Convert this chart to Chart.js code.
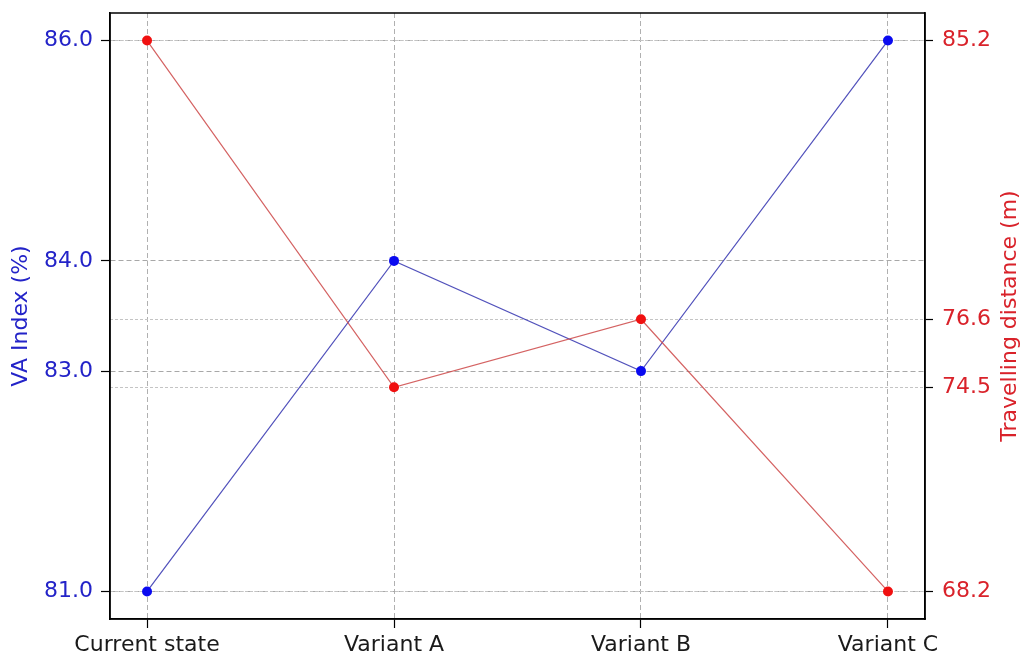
<!DOCTYPE html>
<html><head><meta charset="utf-8">
<script src="https://cdn.jsdelivr.net/npm/chart.js@4/dist/chart.umd.min.js"></script>
<style>html,body{margin:0;padding:0;background:#fff}canvas{display:block}</style>
</head><body>
<canvas id="c" width="1024" height="658"></canvas>
<script>
const categories = ['Current state', 'Variant A', 'Variant B', 'Variant C'];
const vaIndex = [81.0, 84.0, 83.0, 86.0];
const travelDistance = [85.2, 74.5, 76.6, 68.2];
const vaTicks = [81.0, 83.0, 84.0, 86.0];
const distTicks = [68.2, 74.5, 76.6, 85.2];
const leftTitle = 'VA Index (%)';
const rightTitle = 'Travelling distance (m)';

const FONT = 'DejaVu Sans';
const FS = 22;
const BLUE_TXT = '#2323c8';
const RED_TXT = '#d9222a';
const BLUE_PT = '#0a0af0';
const RED_PT = '#f01010';
const BLUE_LN = 'rgba(50,50,175,0.85)';
const RED_LN = 'rgba(205,70,70,0.85)';

function pad(arr, frac) {
  const lo = Math.min(...arr), hi = Math.max(...arr);
  const m = (hi - lo) * frac;
  return [lo - m, hi + m];
}
const vaRange = pad(vaIndex, 0.05);
const distRange = pad(travelDistance, 0.05);

const framePlugin = {
  id: 'frame',
  afterDraw(chart) {
    const { ctx, chartArea: a } = chart;
    ctx.save();
    ctx.strokeStyle = '#000';
    ctx.lineWidth = 1.5;
    ctx.strokeRect(a.left, a.top, a.right - a.left, a.bottom - a.top);
    ctx.font = FS + 'px "' + FONT + '"';
    ctx.fillStyle = RED_TXT;
    ctx.textAlign = 'center';
    ctx.textBaseline = 'middle';
    ctx.translate(1010, (a.top + a.bottom) / 2);
    ctx.rotate(-Math.PI / 2);
    ctx.fillText(rightTitle, 0, 0);
    ctx.restore();
  }
};

function fitY(width) {
  return s => { s.width = width; s.paddingTop = 0; s.paddingBottom = 0; };
}

new Chart(document.getElementById('c'), {
  type: 'line',
  data: {
    datasets: [
      {
        label: rightTitle,
        data: travelDistance.map((v, i) => ({ x: i, y: v })),
        yAxisID: 'y1',
        borderColor: RED_LN,
        backgroundColor: RED_PT,
        borderWidth: 1.2,
        pointRadius: 5,
        pointBorderWidth: 0,
        pointHoverRadius: 5,
        tension: 0
      },
      {
        label: leftTitle,
        data: vaIndex.map((v, i) => ({ x: i, y: v })),
        yAxisID: 'y',
        borderColor: BLUE_LN,
        backgroundColor: BLUE_PT,
        borderWidth: 1.2,
        pointRadius: 5,
        pointBorderWidth: 0,
        pointHoverRadius: 5,
        tension: 0
      }
    ]
  },
  options: {
    responsive: false,
    animation: false,
    events: [],
    layout: { padding: { top: 13, left: 0, right: 0, bottom: 0 } },
    plugins: { legend: { display: false }, tooltip: { enabled: false } },
    scales: {
      x: {
        type: 'linear',
        min: -0.15,
        max: 3.15,
        afterBuildTicks: s => { s.ticks = categories.map((c, i) => ({ value: i })); },
        afterFit: s => { s.height = 39; s.paddingLeft = 0; s.paddingRight = 0; },
        ticks: {
          autoSkip: false,
          maxRotation: 0,
          padding: 4,
          color: '#1a1a1a',
          font: { family: FONT, size: FS },
          callback: v => categories[v]
        },
        grid: {
          color: '#b0b0b0',
          lineWidth: 1,
          tickColor: '#000',
          tickLength: 9,
          tickWidth: 1.2
        },
        border: { display: true, color: '#000', width: 1.5, dash: [5, 3] }
      },
      y: {
        type: 'linear',
        position: 'left',
        min: vaRange[0],
        max: vaRange[1],
        afterBuildTicks: s => { s.ticks = vaTicks.map(v => ({ value: v })); },
        afterFit: fitY(110),
        ticks: {
          autoSkip: false,
          padding: 8,
          color: BLUE_TXT,
          font: { family: FONT, size: FS },
          callback: v => Number(v).toFixed(1)
        },
        title: {
          display: true,
          text: leftTitle,
          color: BLUE_TXT,
          font: { family: FONT, size: FS },
          padding: { top: 8, bottom: 0 }
        },
        grid: {
          color: '#a8a8a8',
          lineWidth: 1,
          tickColor: '#000',
          tickLength: 9,
          tickWidth: 1.2
        },
        border: { display: true, color: '#000', width: 1.5, dash: [5, 3] }
      },
      y1: {
        type: 'linear',
        position: 'right',
        min: distRange[0],
        max: distRange[1],
        afterBuildTicks: s => { s.ticks = distTicks.map(v => ({ value: v })); },
        afterFit: fitY(99),
        ticks: {
          autoSkip: false,
          padding: 9,
          color: RED_TXT,
          font: { family: FONT, size: FS },
          callback: v => Number(v).toFixed(1)
        },
        grid: {
          color: '#c4c4c4',
          lineWidth: 1,
          tickColor: '#000',
          tickLength: 8,
          tickWidth: 1.2
        },
        border: { display: true, color: '#000', width: 1.5, dash: [3, 2] }
      }
    }
  },
  plugins: [framePlugin]
});
</script>
</body></html>
